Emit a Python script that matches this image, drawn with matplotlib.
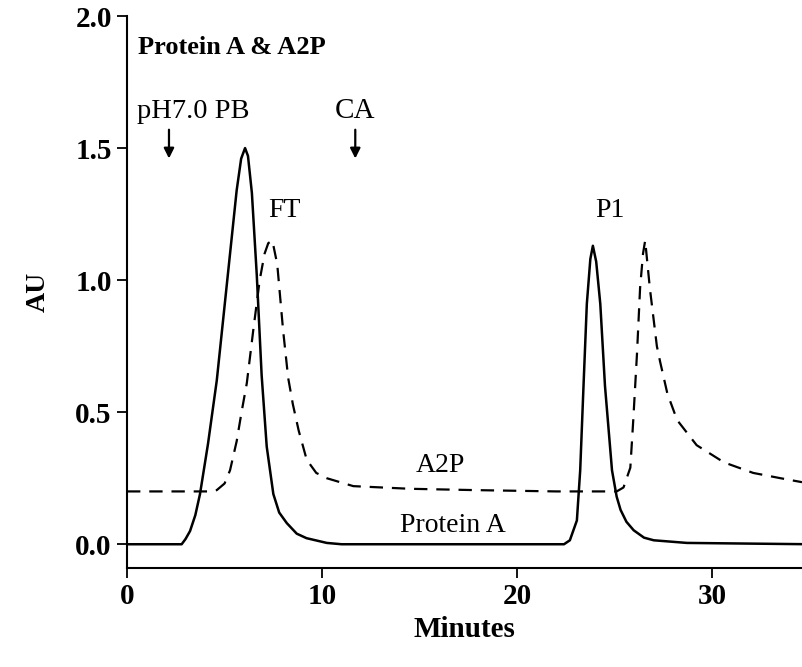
import numpy as np
import matplotlib.pyplot as plt

plt.rcParams['font.family'] = ['Liberation Serif', 'DejaVu Serif']

# Protein A trace (solid)
prot_x = [0, 2.8, 3.0, 3.23, 3.5, 3.74, 4.15, 4.6, 5.11, 5.62, 5.85, 6.05,
          6.2, 6.4, 6.65, 6.9, 7.16, 7.5, 7.8, 8.19, 8.7, 9.2, 10.24, 11.0,
          22.4, 22.7, 23.06, 23.23, 23.4, 23.57, 23.75, 23.88, 24.05, 24.26, 24.5, 24.86,
          25.1, 25.3, 25.6, 25.97, 26.5, 27.0, 28.7, 35.0]
prot_y = [0, 0, 0.02, 0.05, 0.11, 0.19, 0.38, 0.62, 0.98, 1.34, 1.46, 1.50,
          1.47, 1.33, 1.02, 0.64, 0.37, 0.19, 0.12, 0.08, 0.04, 0.023, 0.005, 0,
          0, 0.015, 0.09, 0.28, 0.6, 0.91, 1.08, 1.13, 1.07, 0.91, 0.6, 0.28,
          0.18, 0.13, 0.085, 0.053, 0.025, 0.015, 0.005, 0]

# A2P trace (dashed)
a2p_x = [0, 4.3, 4.6, 5.0, 5.28, 5.62, 5.87, 6.14, 6.47, 6.8, 7.05, 7.24, 7.45, 7.7, 8.0, 8.26,
         8.5, 8.8, 9.21, 9.7, 10.24, 11.6, 14.5, 17.8, 22.0, 25.1, 25.45, 25.8, 25.95, 26.14,
         26.3, 26.45, 26.56, 26.8, 27.16, 27.33, 27.7, 28.2, 29.2, 30.6, 32.1, 33.5, 34.6]
a2p_y = [0.2, 0.2, 0.205, 0.23, 0.28, 0.39, 0.5, 0.61, 0.81, 1.0, 1.1, 1.14, 1.15, 1.06, 0.81, 0.63,
         0.53, 0.43, 0.32, 0.27, 0.25, 0.22, 0.21, 0.205, 0.2, 0.2, 0.215, 0.29, 0.47, 0.72,
         0.97, 1.1, 1.15, 0.97, 0.75, 0.69, 0.57, 0.47, 0.375, 0.31, 0.27, 0.25, 0.235]

x_ticks = [0, 10, 20, 30]
y_ticks = [0.0, 0.5, 1.0, 1.5, 2.0]

fig = plt.figure(figsize=(8.02, 6.67), dpi=100)
ax = fig.add_axes([0.1584, 0.1484, 0.8416, 0.8276])

ax.plot(prot_x, prot_y, color='black', lw=1.8)
ax.plot(a2p_x, a2p_y, color='black', lw=1.6, ls=(0, (6, 4)))

ax.set_xlim(0, 34.6)
ax.set_ylim(-0.09, 2.0)
ax.set_xticks(x_ticks)
ax.set_yticks(y_ticks)
ax.set_yticklabels(['%.1f' % v for v in y_ticks])
for s in ['top', 'right']:
    ax.spines[s].set_visible(False)
for s in ['left', 'bottom']:
    ax.spines[s].set_linewidth(1.5)
ax.tick_params(direction='out', length=7, width=1.3, labelsize=21, pad=4)
for lab in ax.get_xticklabels() + ax.get_yticklabels():
    lab.set_fontweight('bold')

ax.set_xlabel('Minutes', fontsize=21, fontweight='bold', labelpad=4)
ax.set_ylabel('AU', fontsize=20, fontweight='bold', labelpad=18)

ax.text(0.56, 1.88, 'Protein A & A2P', fontsize=19, fontweight='bold', va='center', ha='left')
ax.text(0.51, 1.64, 'pH7.0 PB', fontsize=20.5, va='center', ha='left')
ax.text(11.7, 1.64, 'CA', fontsize=21, va='center', ha='center')
ax.text(8.05, 1.265, 'FT', fontsize=20, va='center', ha='center')
ax.text(24.77, 1.265, 'P1', fontsize=20, va='center', ha='center')
ax.text(16.05, 0.30, 'A2P', fontsize=20, va='center', ha='center')
ax.text(16.7, 0.07, 'Protein A', fontsize=20, va='center', ha='center')

arrow = dict(arrowstyle='-|>', color='black', lw=1.6, mutation_scale=15)
ax.annotate('', xy=(2.15, 1.45), xytext=(2.15, 1.58), arrowprops=arrow)
ax.annotate('', xy=(11.7, 1.45), xytext=(11.7, 1.58), arrowprops=arrow)

fig.savefig('out.png', dpi=100)
